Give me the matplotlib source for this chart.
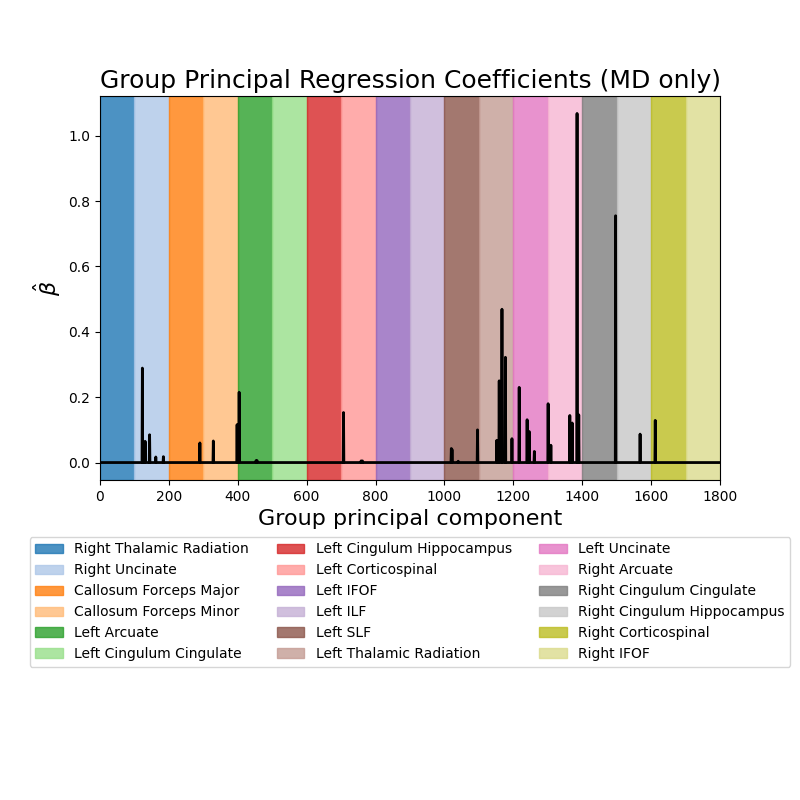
import matplotlib
matplotlib.use('Agg')
import matplotlib.pyplot as plt
import numpy as np

# tract names, one block of 100 components each
tracts = ['Right Thalamic Radiation', 'Right Uncinate', 'Callosum Forceps Major',
          'Callosum Forceps Minor', 'Left Arcuate', 'Left Cingulum Cingulate',
          'Left Cingulum Hippocampus', 'Left Corticospinal', 'Left IFOF',
          'Left ILF', 'Left SLF', 'Left Thalamic Radiation',
          'Left Uncinate', 'Right Arcuate', 'Right Cingulum Cingulate',
          'Right Cingulum Hippocampus', 'Right Corticospinal', 'Right IFOF']
block_size = 100
n_components = 1800

# non-zero coefficients (component index, beta)
spike_idx = [123, 131, 144, 162, 184, 290, 329, 398, 404, 453, 456,
             707, 758, 762, 1020, 1022, 1040, 1096, 1152, 1159, 1167, 1177,
             1196, 1217, 1240, 1246, 1261, 1301, 1309, 1364, 1371,
             1385, 1390, 1497, 1568, 1612]
spike_val = [0.289, 0.065, 0.085, 0.017, 0.018, 0.060, 0.066, 0.116, 0.215, 0.006, 0.006,
             0.153, 0.005, 0.005, 0.043, 0.040, 0.004, 0.100, 0.068, 0.250, 0.469, 0.322,
             0.073, 0.230, 0.131, 0.095, 0.034, 0.180, 0.053, 0.144, 0.121,
             1.068, 0.146, 0.755, 0.087, 0.129]

beta = np.zeros(n_components)
beta[spike_idx] = spike_val

fig = plt.figure(figsize=(8, 8), dpi=100)
ax = fig.add_axes([0.125, 0.4, 0.775, 0.48])

cmap = plt.get_cmap('tab20')
for i, name in enumerate(tracts):
    ax.axvspan(i * block_size, (i + 1) * block_size, color=cmap(i), alpha=0.8, label=name)

ax.plot(np.arange(n_components), beta, color='k', linewidth=2)
ax.set_xlim(0, n_components)

ax.set_title('Group Principal Regression Coefficients (MD only)', fontsize=18)
ax.set_xlabel('Group principal component', fontsize=16)
ax.set_ylabel(r'$\hat{\beta}$', fontsize=16)

ax.legend(loc='upper center', bbox_to_anchor=(0.5, -0.13), ncol=3)

plt.savefig('out.png', dpi=100)
